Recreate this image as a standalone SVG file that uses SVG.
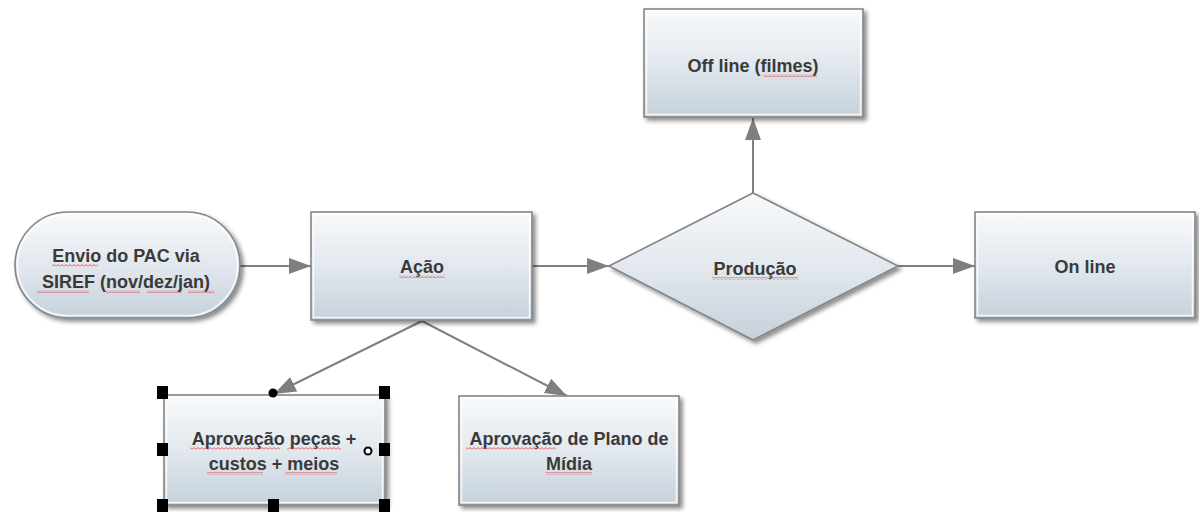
<svg xmlns="http://www.w3.org/2000/svg" width="1199" height="512" viewBox="0 0 1199 512">
<defs>
<linearGradient id="g" x1="0" y1="0" x2="0" y2="1">
<stop offset="0" stop-color="#f8fafc"/>
<stop offset="0.5" stop-color="#e2e8ee"/>
<stop offset="1" stop-color="#c5d1db"/>
</linearGradient>
<filter id="sh" x="-10%" y="-10%" width="130%" height="140%">
<feDropShadow dx="3" dy="3" stdDeviation="2" flood-color="#000" flood-opacity="0.45"/>
</filter>
<marker id="ar" markerUnits="userSpaceOnUse" markerWidth="24" markerHeight="18" viewBox="0 0 24 18" refX="22" refY="9" orient="auto">
<path d="M0 1 L22 9 L0 17 Z" fill="#7f7f7f"/>
</marker>
<pattern id="wv" width="4" height="3" patternUnits="userSpaceOnUse">
<path d="M0 2.5 L2 0.5 L4 2.5" fill="none" stroke="#e03030" stroke-width="0.8"/>
</pattern>
</defs>
<style>
.box{fill:url(#g);stroke:#858585;stroke-width:1.6;filter:url(#sh)}
.in{fill:none;stroke:#ffffff;stroke-width:1.5;opacity:0.8}
.t{font-family:"Liberation Sans",Arial,sans-serif;font-weight:bold;font-size:18px;fill:#3a3a3a;text-anchor:middle}
.c{stroke:#808080;stroke-width:2;fill:none;marker-end:url(#ar)}
.sp{fill:url(#wv)}
.h{fill:#000}
</style>

<g id="connectors">
<line class="c" x1="240" y1="266" x2="311" y2="266"/>
<line class="c" x1="532" y1="266" x2="609" y2="266"/>
<line class="c" x1="898" y1="266" x2="975" y2="266"/>
<line class="c" x1="753" y1="193" x2="753" y2="118"/>
<line class="c" x1="422" y1="321" x2="274" y2="394"/>
<line class="c" x1="422" y1="321" x2="567" y2="396"/>
</g>

<g id="envio">
<rect class="box" x="15" y="212" width="225" height="106" rx="53" ry="53"/>
<rect class="in" x="17.5" y="214.5" width="220" height="101" rx="50" ry="50"/>
<text class="t" x="126" y="262">Envio do PAC via</text>
<text class="t" x="126" y="288">SIREF (nov/dez/jan)</text>
<rect class="sp" x="52" y="264" width="46" height="3"/>
<rect class="sp" x="37" y="290" width="52" height="3"/>
<rect class="sp" x="106" y="290" width="34" height="3"/>
<rect class="sp" x="147" y="290" width="34" height="3"/>
<rect class="sp" x="188" y="290" width="26" height="3"/>
</g>

<g id="acao">
<rect class="box" x="311" y="212" width="221" height="108"/>
<rect class="in" x="313.5" y="214.5" width="216" height="103"/>
<text class="t" x="422" y="273">Ação</text>
<rect class="sp" x="399" y="275" width="46" height="3"/>
</g>

<g id="producao">
<polygon class="box" points="609,266 753,193 898,266 753,340"/>
<text class="t" x="755" y="275">Produção</text>
<rect class="sp" x="712" y="277" width="86" height="3"/>
</g>

<g id="offline">
<rect class="box" x="644" y="9" width="219" height="108"/>
<rect class="in" x="646.5" y="11.5" width="214" height="103"/>
<text class="t" x="753" y="72">Off line (filmes)</text>
<rect class="sp" x="763" y="74" width="54" height="3"/>
</g>

<g id="online">
<rect class="box" x="975" y="212" width="220" height="106"/>
<rect class="in" x="977.5" y="214.5" width="215" height="101"/>
<text class="t" x="1085" y="273">On line</text>
</g>

<g id="pecas">
<rect class="box" x="164" y="395" width="221" height="110"/>
<rect class="in" x="166.5" y="397.5" width="216" height="105"/>
<text class="t" x="274" y="445">Aprovação peças +</text>
<text class="t" x="274" y="470">custos + meios</text>
<rect class="sp" x="190" y="447" width="90" height="3"/>
<rect class="sp" x="287" y="447" width="54" height="3"/>
<rect class="sp" x="207" y="472" width="56" height="3"/>
<rect class="sp" x="285" y="472" width="52" height="3"/>
<g id="handles">
<rect class="h" x="157" y="386" width="11" height="13"/>
<rect class="h" x="379" y="386" width="11" height="13"/>
<rect class="h" x="157" y="443" width="11" height="13"/>
<rect class="h" x="379" y="443" width="11" height="13"/>
<rect class="h" x="157" y="499" width="11" height="13"/>
<rect class="h" x="268" y="499" width="11" height="13"/>
<rect class="h" x="379" y="499" width="11" height="13"/>
<circle class="h" cx="273" cy="393" r="4.5"/>
<circle cx="368" cy="451" r="3.5" fill="#fff" stroke="#000" stroke-width="2"/>
</g>
</g>

<g id="plano">
<rect class="box" x="459" y="396" width="220" height="109"/>
<rect class="in" x="461.5" y="398.5" width="215" height="104"/>
<text class="t" x="569" y="445">Aprovação de Plano de</text>
<text class="t" x="569" y="470">Mídia</text>
<rect class="sp" x="466" y="447" width="90" height="3"/>
<rect class="sp" x="546" y="472" width="46" height="3"/>
</g>
</svg>
